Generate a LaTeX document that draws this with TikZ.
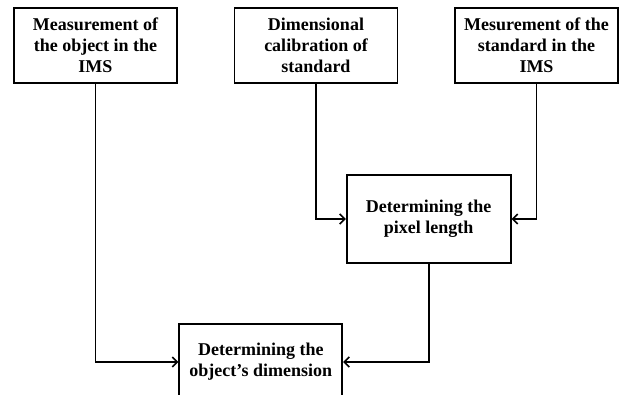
\documentclass[tikz,border=0pt]{standalone}
\usepackage{fontspec}
\setmainfont{Liberation Serif}
\usetikzlibrary{arrows.meta}
\begin{document}
\begin{tikzpicture}[x=1pt,y=-1pt,
  box/.style={draw,line width=1.8pt,minimum width=163pt,inner sep=0pt,align=center,
    font=\fontsize{18}{21}\selectfont\bfseries},
  conn/.style={line width=1.8pt,-{Straight Barb[length=5pt,width=10pt,line width=1.6pt]}}]
\useasboundingbox (0,0) rectangle (619,394);
\clip (0,0) rectangle (619,394);
\node[box,minimum height=75pt] (b1) at (95.5,45.5) {Measurement of\\the object in the\\IMS};
\node[box,minimum height=75pt] (b2) at (316,45.5) {Dimensional\\calibration of\\standard};
\node[box,minimum height=75pt] (b3) at (536.5,45.5) {Mesurement of the\\standard in the\\IMS};
\node[box,minimum height=88pt,minimum width=164pt] (px) at (428.7,219) {Determining the\\pixel length};
\node[box,minimum height=76pt] (ob) at (260.8,362) {Determining the\\object’s dimension};
\draw[conn] (b2.south) |- (px.west);
\draw[conn] (b3.south) |- (px.east);
\draw[conn] (b1.south) |- (ob.west);
\draw[conn] (px.south) |- (ob.east);
\end{tikzpicture}
\end{document}
